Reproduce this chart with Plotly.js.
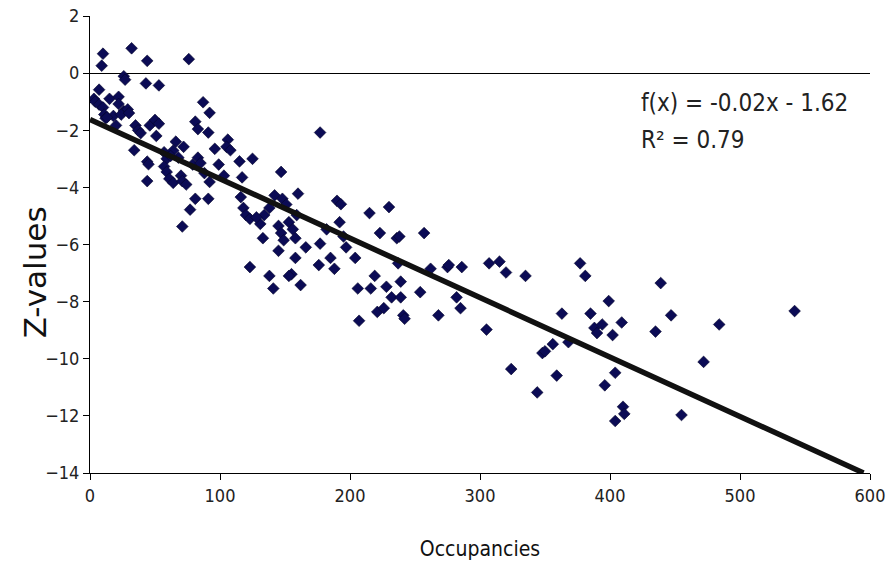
<!DOCTYPE html>
<html><head><meta charset="utf-8">
<script src="https://cdn.plot.ly/plotly-3.0.1.min.js"></script>
<style>html,body{margin:0;padding:0;background:#fff}#chart{width:893px;height:564px}</style>
</head><body><div id="chart"></div>
<script>
const occupancies = [10,9,32,44,76,26,27,43,53,7,3,4,7,10,15,22,11,12,22,26,29,20,35,34,37,46,50,53,51,44,44,57,59,57,59,61,64,66,64,68,70,71,72,71,77,81,79,81,83,87,92,91,83,85,92,91,96,99,106,105,103,115,117,125,116,118,120,123,123,133,134,138,141,142,147,148,138,145,147,145,149,153,156,158,155,153,158,160,159,162,166,177,177,176,182,185,188,190,193,192,195,197,204,206,207,215,216,219,221,223,226,228,230,232,236,238,239,239,241,242,237,254,257,262,268,275,276,282,285,286,305,307,315,320,324,335,344,348,350,356,359,363,368,377,381,385,388,390,394,396,399,402,404,404,409,410,411,435,439,447,455,472,484,542,131,151,45,18,24,13,30,39,62,74,88,108,128];
const zValues = [0.68,0.26,0.87,0.43,0.49,-0.11,-0.23,-0.36,-0.43,-0.58,-0.9,-1.0,-1.1,-1.2,-0.9,-0.83,-1.45,-1.58,-1.08,-1.33,-1.27,-1.83,-1.83,-2.7,-2.0,-1.83,-1.64,-1.77,-2.2,-3.1,-3.78,-2.77,-3.0,-3.27,-3.46,-3.7,-3.84,-2.4,-2.71,-2.96,-3.59,-3.78,-2.58,-5.37,-4.78,-4.4,-3.2,-1.7,-1.96,-1.02,-1.39,-2.08,-2.96,-3.15,-3.81,-4.4,-2.65,-3.2,-2.33,-2.58,-3.59,-3.09,-3.65,-3.0,-4.34,-4.72,-4.97,-5.1,-6.79,-5.78,-4.97,-7.1,-7.54,-4.28,-3.46,-4.4,-4.72,-5.35,-5.6,-6.22,-5.85,-5.22,-5.47,-5.78,-7.04,-7.1,-6.47,-4.22,-4.97,-7.42,-6.1,-2.08,-5.97,-6.72,-5.47,-6.47,-6.85,-4.47,-4.59,-5.22,-5.72,-6.1,-6.47,-7.54,-8.67,-4.9,-7.54,-7.1,-8.36,-5.6,-8.23,-7.48,-4.69,-7.85,-5.78,-5.72,-7.3,-7.85,-8.48,-8.6,-6.66,-7.67,-5.6,-6.85,-8.48,-6.79,-6.72,-7.85,-8.23,-6.79,-8.98,-6.66,-6.6,-6.98,-10.36,-7.1,-11.18,-9.8,-9.74,-9.49,-10.59,-8.42,-9.42,-6.66,-7.1,-8.42,-8.92,-9.1,-8.8,-10.93,-7.98,-9.17,-10.49,-12.18,-8.73,-11.68,-11.93,-9.05,-7.35,-8.48,-11.97,-10.11,-8.8,-8.33,-5.28,-4.6,-3.19,-1.5,-1.45,-1.55,-1.4,-2.1,-2.9,-3.9,-3.5,-2.7,-5.05];
const trendSlope = -0.0208;
const trendIntercept = -1.62;
const trendX = [0, 595];
const trendY = trendX.map(v => trendIntercept + trendSlope * v);
const xTicks = [0,100,200,300,400,500,600];
const yTicks = [2,0,-2,-4,-6,-8,-10,-12,-14];

const narrow = 'Liberation Sans Narrow, DejaVu Sans Condensed, Arial Narrow, Liberation Sans, sans-serif';
const tickFont = {family: narrow, size: 18, color: '#222'};

Plotly.newPlot('chart', [
  {x: occupancies, y: zValues, type: 'scatter', mode: 'markers',
   marker: {symbol: 'diamond', size: 9, color: '#0b0b55', line: {color: '#05052a', width: 0.6}},
   hoverinfo: 'skip', showlegend: false},
  {x: trendX, y: trendY, type: 'scatter', mode: 'lines',
   line: {color: '#111', width: 5.5}, hoverinfo: 'skip', showlegend: false}
], {
  width: 893, height: 564,
  margin: {l: 90, r: 23, t: 16, b: 91},
  paper_bgcolor: '#fff', plot_bgcolor: '#fff',
  xaxis: {range: [0, 600], tickvals: xTicks, ticks: 'outside', ticklen: 6, tickcolor: '#000',
          showline: true, linecolor: '#000', linewidth: 1, showgrid: false, zeroline: false,
          tickfont: tickFont,
          title: {text: 'Occupancies', font: {family: narrow, size: 21, color: '#111'}, standoff: 36}},
  yaxis: {range: [-14, 2], tickvals: yTicks, ticks: 'outside', ticklen: 6, tickcolor: '#000',
          showline: true, linecolor: '#000', linewidth: 1, showgrid: false,
          zeroline: true, zerolinecolor: '#000', zerolinewidth: 1,
          tickfont: tickFont},
  annotations: [
    {xref: 'paper', yref: 'paper', x: -0.07, y: 0.44, xanchor: 'center', yanchor: 'middle', showarrow: false,
     textangle: -90, text: 'Z-values', font: {family: 'DejaVu Sans, sans-serif', size: 31, color: '#111'}},
    {xref: 'paper', yref: 'paper', x: 0.704, y: 0.81, xanchor: 'left', yanchor: 'middle', showarrow: false,
     text: 'f(x) = -0.02x - 1.62', font: {family: narrow, size: 24, color: '#222'}},
    {xref: 'paper', yref: 'paper', x: 0.704, y: 0.729, xanchor: 'left', yanchor: 'middle', showarrow: false,
     text: 'R² = 0.79', font: {family: narrow, size: 24, color: '#222'}}
  ]
}, {staticPlot: true});
</script></body></html>
